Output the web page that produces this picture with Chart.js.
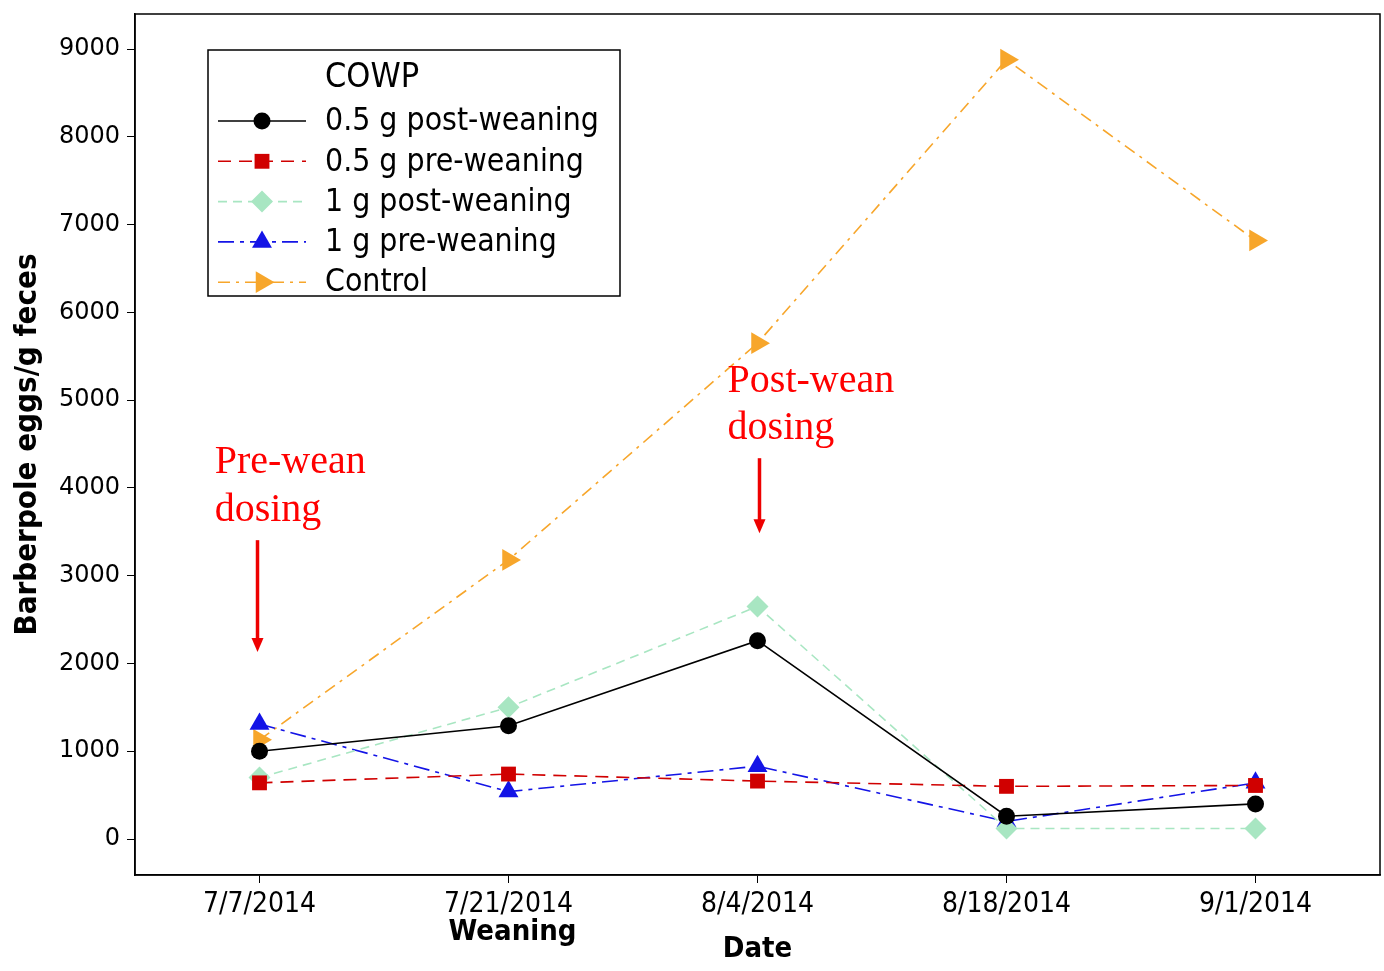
<!DOCTYPE html>
<html>
<head>
<meta charset="utf-8">
<script src="https://cdn.jsdelivr.net/npm/chart.js@4.4.1/dist/chart.umd.min.js"></script>
<style>
  html, body { margin: 0; padding: 0; background: #fff; }
  #wrap { width: 1384px; height: 971px; }
</style>
</head>
<body>
<div id="wrap"><canvas id="myLineChart" width="1384" height="971"></canvas></div>
<script>
// data
const dateLabels = ['7/7/2014', '7/21/2014', '8/4/2014', '8/18/2014', '9/1/2014'];
const yTicks = [0, 1000, 2000, 3000, 4000, 5000, 6000, 7000, 8000, 9000];
const post05 = [1000, 1290, 2260, 260, 400];
const pre05 = [640, 740, 660, 600, 610];
const post1 = [700, 1500, 2650, 120, 120];
const pre1 = [1310, 540, 830, 200, 640];
const control = [1130, 3180, 5650, 8880, 6820];

const seriesNames = ['0.5 g post-weaning', '0.5 g pre-weaning', '1 g post-weaning', '1 g pre-weaning', 'Control'];

function toPoints(arr) {
    return arr.map((v, i) => ({ x: i, y: v }));
}

const styles = [
    { color: '#000000', dash: [], point: 'circle', radius: 8.5, rot: 0 },
    { color: '#d00000', dash: [13, 8], point: 'rect', radius: 10.5, rot: 0 },
    { color: '#a8e6c2', dash: [9, 6], point: 'rectRot', radius: 11, rot: 0 },
    { color: '#1414e6', dash: [16, 6, 4, 6], point: 'triangle', radius: 11.5, rot: 0 },
    { color: '#f7a62b', dash: [12, 6, 3, 6], point: 'triangle', radius: 12.5, rot: 90 }
];

const seriesData = [post05, pre05, post1, pre1, control];
let datasets = [];
seriesData.forEach((arr, i) => {
    let s = styles[i];
    datasets.push({
        label: seriesNames[i],
        data: toPoints(arr),
        borderColor: s.color,
        backgroundColor: s.color,
        borderWidth: 1.6,
        borderDash: s.dash,
        pointStyle: s.point,
        pointRadius: s.radius,
        pointRotation: s.rot,
        pointBorderWidth: 0,
        tension: 0
    });
});

const extras = {
    id: 'extras',
    afterDraw(chart) {
        const c = chart.ctx;
        const a = chart.chartArea;
        const xs = chart.scales.x;
        const ys = chart.scales.y;
        c.save();
        // box round the plot
        c.strokeStyle = '#000';
        c.lineWidth = 1.5;
        c.strokeRect(a.left, a.top, a.right - a.left, a.bottom - a.top);

        // legend
        c.fillStyle = '#fff';
        c.fillRect(208, 50, 412, 246);
        c.strokeRect(208, 50, 412, 246);
        c.fillStyle = '#000';
        c.textBaseline = 'middle';
        c.textAlign = 'left';
        c.font = '34px "DejaVu Sans Condensed"';
        c.fillText('COWP', 325, 78);
        c.font = '31.7px "DejaVu Sans Condensed"';
        seriesNames.forEach((name, i) => {
            let y = 121 + i * 40.3;
            let s = styles[i];
            c.strokeStyle = s.color;
            c.lineWidth = 1.6;
            c.setLineDash(s.dash);
            c.beginPath();
            c.moveTo(218, y);
            c.lineTo(306, y);
            c.stroke();
            c.setLineDash([]);
            c.fillStyle = s.color;
            Chart.helpers.drawPoint(c, { pointStyle: s.point, radius: s.radius, rotation: s.rot, borderWidth: 0 }, 262, y);
            c.fillStyle = '#000';
            c.fillText(name, 325, y + 1);
        });

        // annotations
        c.fillStyle = '#ff0000';
        c.font = '40px "Liberation Serif"';
        c.textBaseline = 'middle';
        c.fillText('Pre-wean', xs.getPixelForValue(-0.18), ys.getPixelForValue(4294));
        c.fillText('dosing', xs.getPixelForValue(-0.18), ys.getPixelForValue(3747));
        c.fillText('Post-wean', xs.getPixelForValue(1.88), ys.getPixelForValue(5216));
        c.fillText('dosing', xs.getPixelForValue(1.88), ys.getPixelForValue(4681));
        drawArrow(c, xs.getPixelForValue(-0.008), ys.getPixelForValue(3405), ys.getPixelForValue(2130));
        drawArrow(c, xs.getPixelForValue(2.008), ys.getPixelForValue(4339), ys.getPixelForValue(3485));

        // weaning note under the second date
        c.fillStyle = '#000';
        c.textAlign = 'center';
        c.font = 'bold 29px "DejaVu Sans Condensed"';
        c.fillText('Weaning', xs.getPixelForValue(1) + 4, 932);
        c.restore();
    }
};

function drawArrow(c, x, y1, y2) {
    c.strokeStyle = '#ee0000';
    c.fillStyle = '#ee0000';
    c.lineWidth = 3.5;
    c.beginPath();
    c.moveTo(x, y1);
    c.lineTo(x, y2 - 12);
    c.stroke();
    c.beginPath();
    c.moveTo(x - 6, y2 - 14);
    c.lineTo(x + 6, y2 - 14);
    c.lineTo(x, y2);
    c.closePath();
    c.fill();
}

const ctx = document.getElementById('myLineChart').getContext('2d');
const myLineChart = new Chart(ctx, {
    type: 'line',
    data: { datasets: datasets },
    options: {
        responsive: false,
        animation: false,
        layout: { autoPadding: false, padding: { top: 14, right: 4, left: 0, bottom: 0 } },
        plugins: {
            legend: { display: false },
            tooltip: { enabled: false }
        },
        scales: {
            x: {
                type: 'linear',
                min: -0.5,
                max: 4.5,
                afterBuildTicks: scale => {
                    scale.ticks = dateLabels.map((l, i) => ({ value: i }));
                },
                afterFit: scale => {
                    scale.height = 96;
                    scale.paddingLeft = 0;
                    scale.paddingRight = 0;
                },
                grid: { drawOnChartArea: false, drawTicks: true, tickLength: 8, color: '#000' },
                border: { display: true, color: '#000', width: 1.5 },
                ticks: {
                    color: '#000',
                    padding: 5,
                    maxRotation: 0,
                    font: { family: '"DejaVu Sans Condensed"', size: 28 },
                    callback: v => dateLabels[v]
                },
                title: {
                    display: true,
                    text: 'Date',
                    color: '#000',
                    padding: { top: 0 },
                    font: { family: '"DejaVu Sans Condensed"', size: 29, weight: 'bold' }
                }
            },
            y: {
                min: -410,
                max: 9400,
                afterBuildTicks: scale => {
                    scale.ticks = yTicks.map(v => ({ value: v }));
                },
                afterFit: scale => {
                    scale.width = 135;
                    scale.paddingTop = 0;
                    scale.paddingBottom = 0;
                },
                grid: { drawOnChartArea: false, drawTicks: true, tickLength: 8, color: '#000' },
                border: { display: true, color: '#000', width: 1.5 },
                ticks: {
                    color: '#000',
                    padding: 7,
                    font: { family: '"DejaVu Sans"', size: 24 },
                    callback: v => String(v)
                },
                title: {
                    display: true,
                    text: 'Barberpole eggs/g feces',
                    color: '#000',
                    padding: { top: 9, bottom: 0 },
                    font: { family: '"DejaVu Sans Condensed"', size: 31, weight: 'bold' }
                }
            }
        }
    },
    plugins: [extras]
});
</script>
</body>
</html>
